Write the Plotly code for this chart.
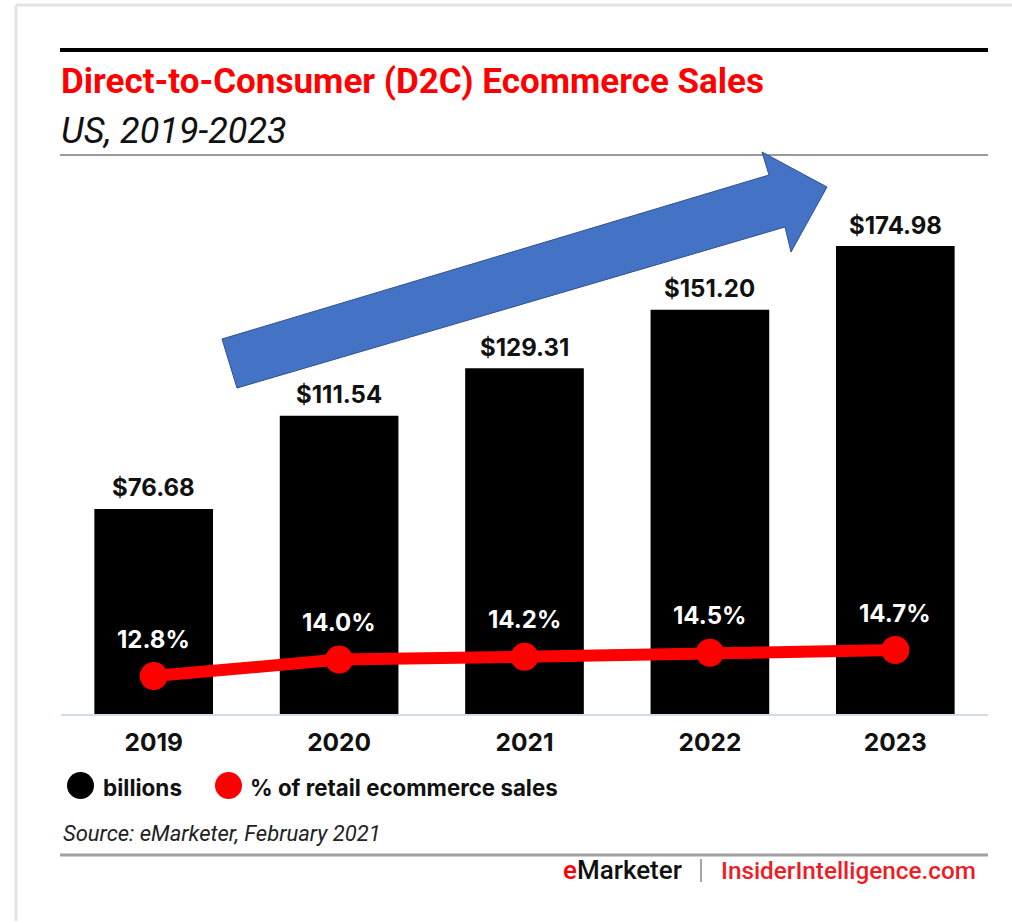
import plotly.graph_objects as go

# Data
years = ["2019", "2020", "2021", "2022", "2023"]
sales_billions = [76.68, 111.54, 129.31, 151.20, 174.98]
share_pct = [12.8, 14.0, 14.2, 14.5, 14.7]

title_text = "Direct-to-Consumer (D2C) Ecommerce Sales"
subtitle_text = "US, 2019-2023"
source_text = "Source: eMarketer, February 2021"
legend_labels = ["billions", "% of retail ecommerce sales"]

# Canvas / plot-area geometry (pixels)
W_PX, H_PX = 1012, 923
L, R, T, B = 61, 988, 155, 714
PW, PH = R - L, B - T

RED = "#ff0000"
BODY = "Inter"
NARROW = "Roboto"


def px(x):
    return (x - L) / PW


def py(y):
    return (B - y) / PH


fig = go.Figure()

fig.add_trace(go.Bar(
    x=years, y=sales_billions, width=0.64,
    marker=dict(color="#000000", line=dict(width=0)),
    hoverinfo="skip",
))

fig.add_trace(go.Scatter(
    x=years, y=share_pct, yaxis="y2", mode="lines+markers",
    line=dict(color=RED, width=12),
    marker=dict(color=RED, size=28),
    hoverinfo="skip", cliponaxis=False,
))

annotations = []
# value labels above bars (category index positions)
for i, v in enumerate(sales_billions):
    annotations.append(dict(
        x=i, y=v, xref="x", yref="y", text=f"${v:.2f}", showarrow=False,
        yanchor="middle", yshift=21,
        font=dict(family=BODY, size=24, color="#111111", weight=700),
    ))
# share labels above markers
for i, p in enumerate(share_pct):
    annotations.append(dict(
        x=i, y=p, xref="x", yref="y2", text=f"{p:.1f}%", showarrow=False,
        yanchor="middle", yshift=37,
        font=dict(family=BODY, size=24, color="#ffffff", weight=700),
    ))

# titles
annotations.append(dict(
    x=px(59), y=py(82), xref="paper", yref="paper", text=f"<b>{title_text}</b>",
    showarrow=False, xanchor="left", yanchor="middle",
    font=dict(family=NARROW, size=35, color=RED),
))
annotations.append(dict(
    x=px(59), y=py(131), xref="paper", yref="paper", text=f"<i>{subtitle_text}</i>",
    showarrow=False, xanchor="left", yanchor="middle",
    font=dict(family=NARROW, size=36, color="#111111"),
))

# legend
annotations.append(dict(
    x=px(101), y=py(787), xref="paper", yref="paper", text=legend_labels[0],
    showarrow=False, xanchor="left", yanchor="middle",
    font=dict(family=BODY, size=22.5, color="#111111", weight=700),
))
annotations.append(dict(
    x=px(248), y=py(787), xref="paper", yref="paper", text=legend_labels[1],
    showarrow=False, xanchor="left", yanchor="middle",
    font=dict(family=BODY, size=22.3, color="#111111", weight=700),
))

# source and footer
annotations.append(dict(
    x=px(61), y=py(833), xref="paper", yref="paper", text=f"<i>{source_text}</i>",
    showarrow=False, xanchor="left", yanchor="middle",
    font=dict(family=NARROW, size=22, color="#222222"),
))
annotations.append(dict(
    x=px(684), y=py(870), xref="paper", yref="paper",
    text=f"<span style='color:{RED}'>e</span>Marketer",
    showarrow=False, xanchor="right", yanchor="middle",
    font=dict(family=NARROW, size=26, color="#111111", weight=500),
))
annotations.append(dict(
    x=px(719), y=py(870), xref="paper", yref="paper",
    text="InsiderIntelligence.com",
    showarrow=False, xanchor="left", yanchor="middle",
    font=dict(family=NARROW, size=24.3, color="#ee1c25", weight=500),
))

shapes = [
    # frame edges
    dict(type="line", xref="paper", yref="paper", x0=px(16), x1=px(1012), y0=py(5), y1=py(5),
         line=dict(color="#e4e4e4", width=3)),
    dict(type="line", xref="paper", yref="paper", x0=px(16), x1=px(16), y0=py(5), y1=py(921),
         line=dict(color="#e4e4e4", width=3)),
    # rules
    dict(type="line", xref="paper", yref="paper", x0=px(60), x1=px(988), y0=py(50), y1=py(50),
         line=dict(color="#000000", width=4)),
    dict(type="line", xref="paper", yref="paper", x0=px(60), x1=px(988), y0=py(155), y1=py(155),
         line=dict(color="#9a9a9a", width=2)),
    dict(type="line", xref="paper", yref="paper", x0=px(60), x1=px(988), y0=py(855), y1=py(855),
         line=dict(color="#a0a0a0", width=3)),
    dict(type="line", xref="paper", yref="paper", x0=px(701), x1=px(701), y0=py(859), y1=py(882),
         line=dict(color="#888888", width=1.5)),
    # legend swatches
    dict(type="circle", xref="paper", yref="paper", x0=px(67), x1=px(94), y0=py(799), y1=py(772),
         fillcolor="#000000", line=dict(width=0)),
    dict(type="circle", xref="paper", yref="paper", x0=px(215), x1=px(242), y0=py(799), y1=py(772),
         fillcolor=RED, line=dict(width=0)),
]

# growth arrow overlay
arrow_pts = [(222, 339), (769, 175), (762, 152), (827, 187), (791, 252), (785, 227), (237, 388)]
path = "M " + " L ".join(f"{px(x)},{py(y)}" for x, y in arrow_pts) + " Z"
shapes.append(dict(type="path", xref="paper", yref="paper", path=path,
                   fillcolor="#4472c4", line=dict(color="#2f528f", width=1), layer="above"))

fig.update_layout(
    width=W_PX, height=H_PX,
    margin=dict(l=L, r=W_PX - R, t=T, b=H_PX - B, pad=0),
    paper_bgcolor="#ffffff", plot_bgcolor="#ffffff",
    showlegend=False,
    xaxis=dict(
        type="category", range=[-0.5, 4.5], showgrid=False, zeroline=False,
        showline=True, linecolor="#d3dcec", linewidth=2,
        ticks="", ticklabelstandoff=6,
        tickfont=dict(family=BODY, size=24.5, color="#111111", weight=700),
    ),
    yaxis=dict(range=[0, PH / 2.674], visible=False, fixedrange=True),
    yaxis2=dict(range=[10.03, 10.03 + PH / 13.7], overlaying="y", visible=False),
    annotations=annotations,
    shapes=shapes,
)

fig.write_html("out.html")
